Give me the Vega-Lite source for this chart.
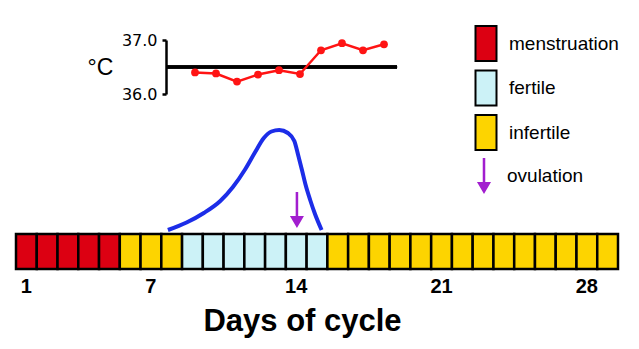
{
  "$schema": "https://vega.github.io/schema/vega-lite/v6.json",
  "width": 639,
  "height": 349,
  "autosize": {"type": "none"},
  "padding": 0,
  "background": "white",
  "config": {"view": {"stroke": null}, "font": "Liberation Sans"},
  "datasets": {
    "days": [
      {"day": 1, "phase": "menstruation"}, {"day": 2, "phase": "menstruation"}, {"day": 3, "phase": "menstruation"},
      {"day": 4, "phase": "menstruation"}, {"day": 5, "phase": "menstruation"}, {"day": 6, "phase": "infertile"},
      {"day": 7, "phase": "infertile"}, {"day": 8, "phase": "infertile"}, {"day": 9, "phase": "fertile"},
      {"day": 10, "phase": "fertile"}, {"day": 11, "phase": "fertile"}, {"day": 12, "phase": "fertile"},
      {"day": 13, "phase": "fertile"}, {"day": 14, "phase": "fertile"}, {"day": 15, "phase": "fertile"},
      {"day": 16, "phase": "infertile"}, {"day": 17, "phase": "infertile"}, {"day": 18, "phase": "infertile"},
      {"day": 19, "phase": "infertile"}, {"day": 20, "phase": "infertile"}, {"day": 21, "phase": "infertile"},
      {"day": 22, "phase": "infertile"}, {"day": 23, "phase": "infertile"}, {"day": 24, "phase": "infertile"},
      {"day": 25, "phase": "infertile"}, {"day": 26, "phase": "infertile"}, {"day": 27, "phase": "infertile"},
      {"day": 28, "phase": "infertile"}, {"day": 29, "phase": "infertile"}
    ],
    "temperature": [
      {"day": 9, "temp": 36.40}, {"day": 10, "temp": 36.38}, {"day": 11, "temp": 36.23},
      {"day": 12, "temp": 36.36}, {"day": 13, "temp": 36.44}, {"day": 14, "temp": 36.37},
      {"day": 15, "temp": 36.81}, {"day": 16, "temp": 36.94}, {"day": 17, "temp": 36.81},
      {"day": 18, "temp": 36.92}
    ],
    "curve": [
      {"day": 7.57, "level": 0.0}, {"day": 8.5, "level": 0.075}, {"day": 9.36, "level": 0.17},
      {"day": 10.18, "level": 0.29}, {"day": 10.81, "level": 0.43}, {"day": 11.43, "level": 0.61},
      {"day": 11.92, "level": 0.78}, {"day": 12.35, "level": 0.92}, {"day": 12.73, "level": 0.985},
      {"day": 13.12, "level": 1.0}, {"day": 13.55, "level": 0.97}, {"day": 13.87, "level": 0.89},
      {"day": 14.06, "level": 0.75}, {"day": 14.25, "level": 0.6}, {"day": 14.42, "level": 0.46},
      {"day": 14.66, "level": 0.3}, {"day": 14.9, "level": 0.16}, {"day": 15.23, "level": 0.0}
    ],
    "events": [{"day": 14, "event": "ovulation"}]
  },
  "layer": [
    {
      "data": {"name": "days"},
      "mark": {"type": "rect", "stroke": "black", "strokeWidth": 2.5},
      "encoding": {
        "x": {
          "field": "day", "type": "ordinal",
          "scale": {"type": "band", "domain": [1,2,3,4,5,6,7,8,9,10,11,12,13,14,15,16,17,18,19,20,21,22,23,24,25,26,27,28,29], "range": [16, 618], "paddingInner": 0, "paddingOuter": 0},
          "axis": {
            "orient": "bottom", "offset": -79, "values": [1, 7, 14, 21, 28],
            "domain": false, "ticks": false, "labelAngle": 0,
            "labelFont": "Liberation Sans", "labelFontSize": 20, "labelFontWeight": "bold", "labelColor": "black", "labelPadding": 6,
            "title": "Days of cycle", "titleFont": "Liberation Sans", "titleFontSize": 31, "titleFontWeight": "bold", "titleColor": "black",
            "titleX": 302, "titleY": 60, "titleBaseline": "alphabetic", "titleAlign": "center"
          }
        },
        "y": {"datum": "cycle", "type": "nominal", "scale": {"type": "band", "domain": ["cycle"], "range": [234, 269], "paddingInner": 0, "paddingOuter": 0}, "axis": null},
        "fill": {
          "field": "phase", "type": "nominal",
          "scale": {"domain": ["menstruation", "fertile", "infertile"], "range": ["#dc0012", "#ccf2f7", "#fdd400"]},
          "legend": {
            "orient": "none", "legendX": 467.5, "legendY": 25, "title": null, "padding": 0,
            "symbolType": "M-0.6,-1h1.2v2h-1.2z", "symbolSize": 1225, "symbolStrokeColor": "black", "symbolStrokeWidth": 2,
            "labelFont": "Liberation Sans", "labelFontSize": 19, "labelColor": "black", "labelOffset": 4.5, "rowPadding": 1.5
          }
        }
      }
    },
    {
      "layer": [
        {
          "data": {"name": "curve"},
          "mark": {"type": "line", "color": "#1c2de8", "strokeWidth": 4, "interpolate": "monotone"},
          "encoding": {
            "x": {"field": "day", "type": "quantitative", "scale": {"domain": [0.5, 29.5], "range": [16, 618]}, "axis": null},
            "y": {"field": "level", "type": "quantitative", "scale": {"domain": [0, 1], "range": [230, 130]}, "axis": null}
          }
        },
        {
          "data": {"name": "events"},
          "mark": {"type": "point", "filled": true, "color": "#a21ecf", "opacity": 1, "size": 1296, "strokeWidth": 0},
          "encoding": {
            "x": {"field": "day", "type": "quantitative"},
            "y": {"datum": 0.2, "type": "quantitative"},
            "shape": {
              "field": "event", "type": "nominal",
              "scale": {"range": ["M-0.07,-1L0.07,-1L0.07,0.33L0.39,0.33L0,1L-0.39,0.33L-0.07,0.33Z"]},
              "legend": {
                "orient": "none", "legendX": 466, "legendY": 158, "title": null, "padding": 0,
                "symbolSize": 1296, "symbolFillColor": "#a21ecf", "symbolStrokeWidth": 0, "symbolOpacity": 1,
                "labelFont": "Liberation Sans", "labelFontSize": 19, "labelColor": "black", "labelOffset": 5
              }
            }
          }
        }
      ]
    },
    {
      "data": {"name": "temperature"},
      "encoding": {
        "x": {"field": "day", "type": "quantitative", "scale": {"domain": [9, 18], "range": [195, 384]}, "axis": null},
        "y": {
          "field": "temp", "type": "quantitative",
          "scale": {"domain": [36, 37], "range": [94, 40], "zero": false},
          "axis": {
            "orient": "left", "offset": -166, "values": [36, 37], "format": ".1f", "grid": false,
            "domainColor": "black", "domainWidth": 2.5, "tickColor": "black", "tickWidth": 2.5, "tickSize": 4,
            "labelFont": "DejaVu Sans", "labelFontSize": 16, "labelColor": "black", "labelPadding": 5,
            "title": "°C", "titleAngle": 0, "titleFont": "Liberation Sans", "titleFontSize": 23, "titleFontWeight": "normal",
            "titleColor": "black", "titleX": -66, "titleY": 67, "titleAlign": "center", "titleBaseline": "middle"
          }
        }
      },
      "layer": [
        {
          "mark": {"type": "rule", "color": "black", "strokeWidth": 2.5},
          "encoding": {"x": {"datum": 7.62}, "x2": {"datum": 18.62}, "y": {"datum": 36.5}}
        },
        {"mark": {"type": "line", "color": "#ff1414", "strokeWidth": 2.5}},
        {"mark": {"type": "circle", "color": "#ff1414", "size": 60, "opacity": 1}}
      ]
    }
  ],
  "resolve": {"scale": {"x": "independent", "y": "independent"}}
}
